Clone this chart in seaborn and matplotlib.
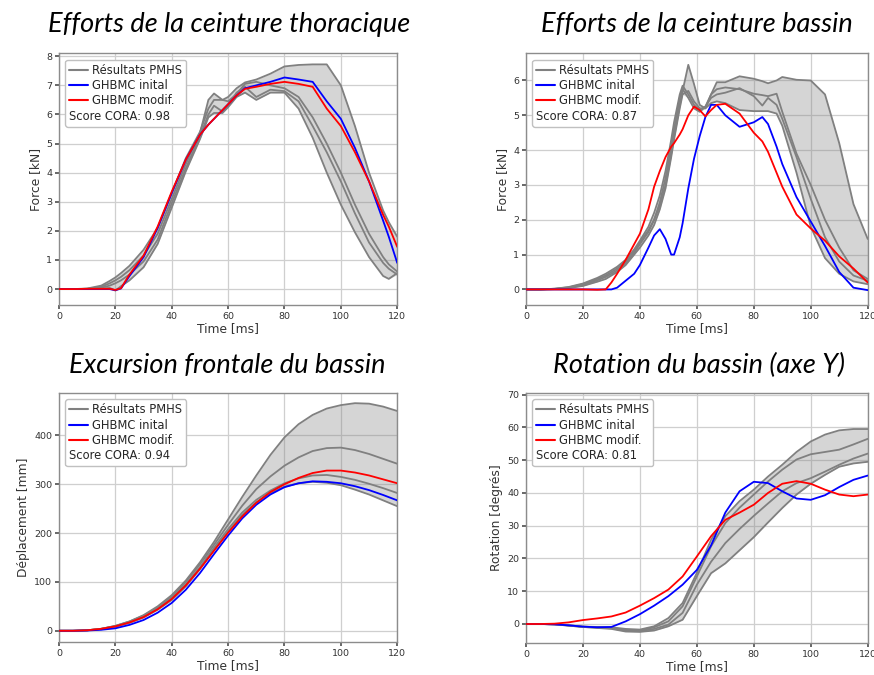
import numpy as np
import matplotlib.pyplot as plt
from matplotlib.lines import Line2D
import seaborn as sns

# ---------------- data ----------------
# Efforts de la ceinture thoracique (kN)
t_thorax = [0, 5, 10, 15, 18, 20, 22, 25, 30, 35, 40, 45, 50, 53, 55, 58, 60, 63, 66, 70,
            75, 80, 85, 90, 95, 100, 105, 110, 115, 117, 120]
thorax_pmhs_1 = [0, 0, 0.02, 0.12, 0.28, 0.4, 0.55, 0.8, 1.35, 2.1, 3.3, 4.5, 5.4, 6.2, 6.5,
                 6.5, 6.6, 6.9, 7.1, 7.2, 7.4, 7.65, 7.7, 7.72, 7.72, 7.0, 5.6, 4.0, 2.7, 2.3, 1.8]
thorax_pmhs_2 = [0, 0, 0.01, 0.08, 0.2, 0.3, 0.42, 0.65, 1.15, 1.9, 3.1, 4.3, 5.35, 6.5, 6.72,
                 6.5, 6.45, 6.7, 7.05, 7.12, 7.0, 6.9, 6.6, 5.9, 5.0, 4.0, 2.9, 1.9, 1.1, 0.85, 0.6]
thorax_pmhs_3 = [0, 0, 0.01, 0.05, 0.12, 0.2, 0.3, 0.5, 0.95, 1.7, 2.95, 4.15, 5.25, 6.0, 6.3,
                 6.1, 6.3, 6.75, 6.95, 6.6, 6.85, 6.8, 6.45, 5.6, 4.7, 3.7, 2.6, 1.6, 0.9, 0.7, 0.5]
thorax_pmhs_4 = [0, 0, 0, 0.02, 0.04, -0.05, 0.1, 0.3, 0.75, 1.55, 2.8, 4.05, 5.15, 5.9, 6.05,
                 6.05, 6.25, 6.6, 6.75, 6.5, 6.75, 6.75, 6.2, 5.2, 4.0, 2.9, 1.95, 1.1, 0.45, 0.35, 0.55]
thorax_init = [0, 0, 0, 0, 0, -0.04, 0.02, 0.45, 1.1, 2.1, 3.3, 4.45, 5.3, 5.65, 5.85,
               6.15, 6.35, 6.65, 6.9, 7.0, 7.12, 7.27, 7.2, 7.12, 6.45, 5.85, 4.85, 3.7, 2.35, 1.8, 0.9]
thorax_modif = [0, 0, 0.01, 0.01, 0.01, -0.03, 0.03, 0.5, 1.15, 2.15, 3.35, 4.45, 5.3, 5.65, 5.85,
                6.15, 6.35, 6.65, 6.88, 6.95, 7.05, 7.12, 7.05, 6.95, 6.2, 5.6, 4.7, 3.7, 2.55, 2.15, 1.45]

# Efforts de la ceinture bassin (kN)
t_bassin = [0, 5, 10, 15, 20, 25, 28, 30, 32, 35, 38, 40, 43, 45, 47, 49, 51, 52, 54, 55,
            57, 59, 61, 63, 65, 67, 70, 75, 80, 83, 85, 88, 90, 95, 100, 105, 110, 115, 120]
bassin_pmhs_1 = [0, 0, 0.02, 0.06, 0.15, 0.3, 0.4, 0.5, 0.6, 0.8, 1.1, 1.35, 1.7, 2.0, 2.4,
                 3.0, 3.9, 4.4, 5.3, 5.7, 6.45, 5.9, 5.3, 5.2, 5.6, 5.95, 5.95, 6.12, 6.05, 5.98,
                 5.92, 6.0, 6.1, 6.02, 6.0, 5.6, 4.2, 2.45, 1.45]
bassin_pmhs_2 = [0, 0, 0.02, 0.07, 0.17, 0.33, 0.45, 0.55, 0.65, 0.85, 1.15, 1.4, 1.8, 2.2, 2.7,
                 3.4, 4.3, 4.8, 5.6, 5.85, 5.6, 5.3, 5.15, 5.25, 5.6, 5.75, 5.8, 5.75, 5.62, 5.58,
                 5.55, 5.62, 5.1, 3.9, 3.0, 2.0, 1.2, 0.55, 0.3]
bassin_pmhs_3 = [0, 0, 0.01, 0.05, 0.12, 0.26, 0.36, 0.45, 0.55, 0.75, 1.05, 1.3, 1.65, 2.0, 2.5,
                 3.2, 4.1, 4.6, 5.5, 5.75, 5.5, 5.2, 5.1, 5.25, 5.5, 5.6, 5.65, 5.78, 5.55, 5.28,
                 5.5, 5.3, 4.9, 3.8, 2.6, 1.5, 0.8, 0.4, 0.25]
bassin_pmhs_4 = [0, 0, 0.01, 0.04, 0.1, 0.22, 0.3, 0.4, 0.5, 0.7, 1.0, 1.2, 1.55, 1.85, 2.3,
                 2.9, 3.8, 4.3, 5.2, 5.6, 5.7, 5.4, 5.2, 5.2, 5.35, 5.4, 5.35, 5.15, 5.12, 5.12,
                 5.12, 5.05, 4.7, 3.35, 1.8, 0.9, 0.45, 0.23, 0.15]
bassin_init = [0, 0, 0, 0, 0, 0, 0, 0, 0.05, 0.25, 0.45, 0.7, 1.2, 1.55, 1.73,
               1.45, 1.0, 1.0, 1.5, 1.9, 2.9, 3.75, 4.4, 4.95, 5.3, 5.3, 5.0, 4.67, 4.8, 4.95,
               4.75, 4.1, 3.6, 2.65, 1.95, 1.25, 0.5, 0.05, -0.02]
bassin_modif = [0, 0, 0, 0, 0, -0.01, 0, 0.2, 0.45, 0.85, 1.3, 1.6, 2.3, 2.95, 3.4,
                3.8, 4.1, 4.2, 4.45, 4.6, 5.0, 5.25, 5.15, 4.97, 5.15, 5.3, 5.33, 5.05, 4.5, 4.25,
                3.95, 3.35, 2.95, 2.15, 1.75, 1.4, 0.95, 0.6, 0.2]

# Excursion frontale du bassin (mm)
t_excursion = [0, 5, 10, 15, 20, 25, 30, 35, 40, 45, 50, 55, 60, 65, 70, 75, 80, 85, 90, 95,
               100, 105, 110, 115, 120]
excursion_pmhs_1 = [0, 0, 1, 4, 10, 19, 32, 50, 73, 103, 140, 182, 228, 274, 318, 360, 396, 423,
                    442, 455, 462, 466, 465, 459, 450]
excursion_pmhs_2 = [0, 0, 1, 4, 10, 19, 31, 48, 70, 100, 136, 176, 217, 256, 290, 316, 338, 355,
                    368, 374, 375, 370, 362, 352, 342]
excursion_pmhs_3 = [0, 0, 1, 4, 9, 18, 30, 46, 67, 95, 130, 170, 208, 242, 268, 287, 302, 312,
                    318, 319, 315, 309, 301, 292, 282]
excursion_pmhs_4 = [0, 0, 1, 3, 8, 16, 27, 43, 63, 91, 126, 165, 203, 237, 263, 282, 295, 302,
                    305, 303, 298, 289, 279, 267, 255]
excursion_init = [0, 0, 0.5, 2, 5, 12, 22, 37, 57, 84, 118, 157, 195, 230, 258, 279, 294, 302,
                  306, 305, 302, 296, 288, 278, 267]
excursion_modif = [0, 0, 1, 4, 9, 17, 28, 44, 65, 93, 127, 164, 201, 234, 262, 284, 300, 313,
                   323, 328, 328, 324, 318, 310, 302]

# Rotation du bassin (axe Y) (degrés)
t_rotation = [0, 5, 10, 15, 20, 25, 30, 35, 40, 45, 50, 55, 60, 65, 70, 75, 80, 85, 90, 95,
              100, 105, 110, 115, 120]
rotation_pmhs_1 = [0, 0, -0.1, -0.4, -0.8, -0.9, -1.0, -1.5, -1.7, -0.7, 1.8, 6.4, 15.6, 25.7,
                   32.9, 37.5, 41, 45, 48.6, 52.5, 55.7, 57.8, 59.1, 59.5, 59.5]
rotation_pmhs_2 = [0, 0, -0.1, -0.4, -0.8, -1.0, -1.2, -1.8, -2.0, -1.0, 0.8, 5.4, 14.5, 23.7,
                   30.8, 35.5, 39.5, 43.5, 47.1, 50.2, 51.8, 52.5, 53.2, 54.8, 56.5]
rotation_pmhs_3 = [0, 0, -0.1, -0.5, -0.9, -1.1, -1.3, -2.0, -2.2, -1.5, -0.2, 3.4, 12, 19,
                   24.7, 29, 33, 36.8, 40.5, 43, 44.5, 46.5, 48.6, 50.5, 52]
rotation_pmhs_4 = [0, 0, -0.1, -0.5, -0.9, -1.2, -1.5, -2.3, -2.4, -2.0, -0.7, 1.3, 8.5, 15.5,
                   18.5, 22.5, 26.5, 31, 35.4, 39.5, 42.8, 45.5, 48, 49, 49.5]
rotation_init = [0, 0, -0.1, -0.4, -0.8, -1.0, -0.9, 0.8, 3.0, 5.6, 8.5, 12, 16.5, 24, 34,
                 40.5, 43.4, 43, 40.5, 38.3, 37.9, 39.3, 41.8, 44, 45.3]
rotation_modif = [0, 0, 0.1, 0.5, 1.2, 1.7, 2.3, 3.5, 5.6, 7.9, 10.5, 14.5, 20.6, 26.8, 31.8,
                  34, 36.4, 40, 42.8, 43.6, 42.8, 41, 39.5, 39, 39.5]

titles = ["Efforts de la ceinture thoracique", "Efforts de la ceinture bassin",
          "Excursion frontale du bassin", "Rotation du bassin (axe Y)"]
ylabels = ["Force [kN]", "Force [kN]", "Déplacement [mm]", "Rotation [degrés]"]
scores = [0.98, 0.87, 0.94, 0.81]
legend_labels = ["Résultats PMHS", "GHBMC inital", "GHBMC modif."]

# ---------------- figure ----------------
sns.set_theme(style="whitegrid")
plt.rcParams.update({
    "axes.edgecolor": "#8c8c8c",
    "axes.linewidth": 1.0,
    "grid.color": "#cfcfcf",
    "grid.linewidth": 0.9,
    "xtick.bottom": True,
    "ytick.left": True,
    "xtick.color": "#555555",
    "ytick.color": "#555555",
    "xtick.labelcolor": "#333333",
    "ytick.labelcolor": "#333333",
    "xtick.major.size": 3,
    "ytick.major.size": 3,
    "xtick.major.pad": 2,
    "ytick.major.pad": 2,
})
plt.rcParams["font.family"] = ["DejaVu Sans"]

fig = plt.figure(figsize=(8.74, 6.75), dpi=100)

panels = [
    dict(rect=[0.0675, 0.548, 0.387, 0.373], t=t_thorax,
         pmhs=[thorax_pmhs_1, thorax_pmhs_2, thorax_pmhs_3, thorax_pmhs_4],
         init=thorax_init, modif=thorax_modif, ylim=(-0.55, 8.1), yticks=np.arange(0, 9, 1),
         title_xy=(0.262, 0.963)),
    dict(rect=[0.6018, 0.548, 0.391, 0.373], t=t_bassin,
         pmhs=[bassin_pmhs_1, bassin_pmhs_2, bassin_pmhs_3, bassin_pmhs_4],
         init=bassin_init, modif=bassin_modif, ylim=(-0.45, 6.78), yticks=np.arange(0, 7, 1),
         title_xy=(0.797, 0.963)),
    dict(rect=[0.0675, 0.0489, 0.387, 0.369], t=t_excursion,
         pmhs=[excursion_pmhs_1, excursion_pmhs_2, excursion_pmhs_3, excursion_pmhs_4],
         init=excursion_init, modif=excursion_modif, ylim=(-23, 487), yticks=np.arange(0, 500, 100),
         title_xy=(0.260, 0.459)),
    dict(rect=[0.6018, 0.0474, 0.391, 0.3704], t=t_rotation,
         pmhs=[rotation_pmhs_1, rotation_pmhs_2, rotation_pmhs_3, rotation_pmhs_4],
         init=rotation_init, modif=rotation_modif, ylim=(-5.8, 70.5), yticks=np.arange(0, 80, 10),
         title_xy=(0.800, 0.459)),
]

for i, p in enumerate(panels):
    ax = fig.add_axes(p["rect"])
    t = p["t"]
    pm = np.array(p["pmhs"])
    # corridor des essais PMHS
    ax.fill_between(t, pm.min(axis=0), pm.max(axis=0), color="gray", alpha=0.33, lw=0, zorder=2)
    for curve in p["pmhs"]:
        sns.lineplot(x=t, y=curve, ax=ax, color="gray", lw=1.3, estimator=None, zorder=3)
    sns.lineplot(x=t, y=p["init"], ax=ax, color="blue", lw=1.3, estimator=None, zorder=4)
    sns.lineplot(x=t, y=p["modif"], ax=ax, color="red", lw=1.3, estimator=None, zorder=5)

    ax.set_xlim(0, 120)
    ax.set_ylim(*p["ylim"])
    ax.set_xticks(np.arange(0, 121, 20))
    ax.set_yticks(p["yticks"])
    ax.tick_params(labelsize=6.8)
    ax.set_xlabel("Time [ms]", fontsize=8.8, color="#333333", labelpad=1)
    ax.set_ylabel(ylabels[i], fontsize=8.8, color="#333333", labelpad=3)
    for s in ax.spines.values():
        s.set_visible(True)

    handles = [Line2D([], [], color="gray", lw=1.5), Line2D([], [], color="blue", lw=1.5),
               Line2D([], [], color="red", lw=1.5), Line2D([], [], color="none")]
    labels = legend_labels + [f"Score CORA: {scores[i]:.2f}"]
    leg = ax.legend(handles, labels, loc="upper left", fontsize=8.3, frameon=True, framealpha=1,
                    edgecolor="#c0c0c0", fancybox=True, handlelength=1.6, handletextpad=0.35,
                    borderpad=0.35, labelspacing=0.2, borderaxespad=0.55)
    leg.set_zorder(10)
    # score line starts at the handle column
    try:
        row = leg._legend_handle_box.get_children()[0].get_children()[3]
        row.get_children()[0].width = 0
        row.sep = 0
    except Exception:
        pass

    fig.text(p["title_xy"][0], p["title_xy"][1], titles[i], ha="center", va="center",
             fontsize=19.5, style="italic", family=["Lato", "DejaVu Sans"], color="black")

fig.savefig("out.png", dpi=100)
